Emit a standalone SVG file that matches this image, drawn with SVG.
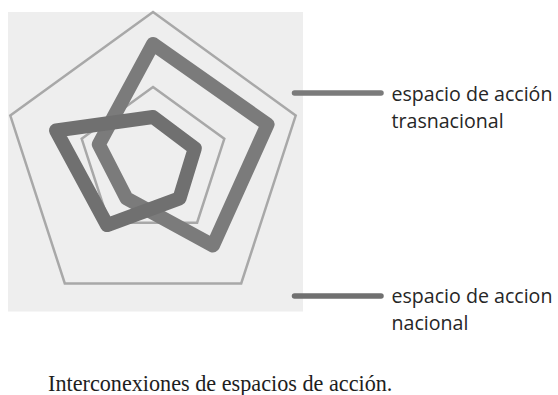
<svg xmlns="http://www.w3.org/2000/svg" width="558" height="395" viewBox="0 0 558 395">
  <style>
    .grid { fill: none; stroke: #a8a8a8; stroke-width: 2.5; stroke-linejoin: miter; }
    .series { fill: none; stroke-width: 14; stroke-linejoin: round; }
    .sA { stroke: #7b7b7b; }
    .sB { stroke: #707070; }
    .swatch { stroke-width: 5.5; stroke-linecap: round; }
    .legend { font-family: "Open Sans", "Liberation Sans", sans-serif; font-size: 19.6px; fill: #262626; }
    .caption { font-family: "Liberation Serif", "DejaVu Serif", serif; font-size: 22.2px; fill: #1e1e1e; }
  </style>
  <rect width="558" height="395" fill="#ffffff"/>
  <g id="plot-area">
    <rect x="8" y="12" width="295" height="299.5" fill="#eeeeee"/>
  </g>
  <g id="grid">
    <polygon class="grid" points="153,12 295.7,115.6 241.2,283.4 64.8,283.4 10.3,115.6"/>
    <polygon class="grid" points="153,87 224.3,138.8 197.1,222.7 108.9,222.7 81.7,138.8"/>
  </g>
  <g id="series-trasnacional">
    <polygon class="series sA" points="153,44 267.5,124.5 213,245.5 126.5,198.4 98.8,144.4"/>
  </g>
  <g id="series-nacional">
    <polygon class="series sB" points="153,117 194.8,148.4 179.5,198.4 107.1,225.1 56,130.5"/>
  </g>
  <g id="legend-trasnacional">
    <line class="swatch sA" x1="294.5" y1="93" x2="381" y2="93"/>
    <text class="legend" x="391.5" y="101">espacio de acción</text>
    <text class="legend" x="391.5" y="128">trasnacional</text>
  </g>
  <g id="legend-nacional">
    <line class="swatch sB" x1="294.5" y1="296" x2="381" y2="296"/>
    <text class="legend" x="391.5" y="303">espacio de accion</text>
    <text class="legend" x="391.5" y="330">nacional</text>
  </g>
  <g id="caption">
    <text class="caption" x="48" y="391">Interconexiones de espacios de acción.</text>
  </g>
</svg>
